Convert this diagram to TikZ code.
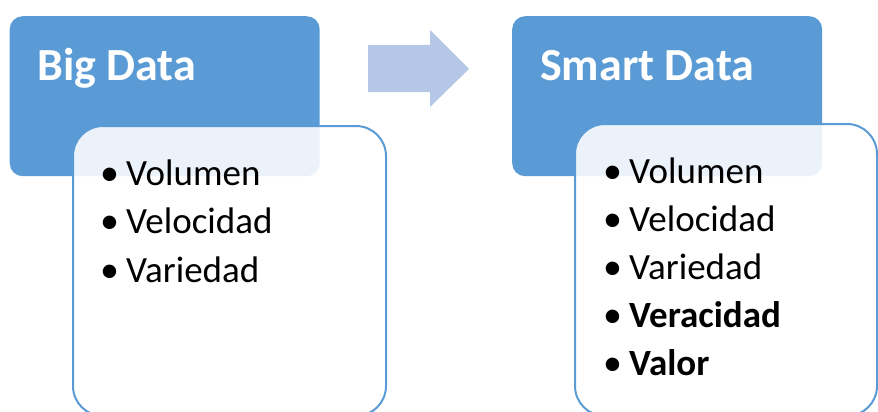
\documentclass[tikz,border=0pt]{standalone}
\usepackage{fontspec}
\setmainfont{Carlito}
\definecolor{accent}{HTML}{5B9BD5}
\definecolor{arrowfill}{HTML}{B4C7E7}
\tikzset{
  headbox/.style={fill=accent, draw=none, rounded corners=13pt, anchor=north west, inner sep=0pt},
  listbox/.style={fill=white, fill opacity=0.88, draw=accent, draw opacity=1, line width=2pt, rounded corners=30pt, anchor=north west, inner sep=0pt},
  headtext/.style={anchor=base west, inner sep=0pt, text=white, font=\fontsize{46}{46}\selectfont\bfseries},
  bul/.style={anchor=base west, inner sep=0pt, font=\fontsize{38}{38}\selectfont},
  itemtext/.style={anchor=base west, inner sep=0pt, font=\fontsize{37}{37}\selectfont},
}
\begin{document}
\begin{tikzpicture}[x=1pt,y=-1pt]
\useasboundingbox (0,0) rectangle (878,412);
% left group
\node[headbox, minimum width=310pt, minimum height=160pt] (bigbox) at (9.5,16) {};
\node[headtext] (bigtitle) at (37,81) {Big Data};
\node[listbox, minimum width=313pt, minimum height=290pt] (biglist) at (72,125) {};
\node[bul] (b1) at (100,185) {•};
\node[itemtext] (t1) at (126,185) {Volumen};
\node[bul] (b2) at (100,233.5) {•};
\node[itemtext] (t2) at (126,233.5) {Velocidad};
\node[bul] (b3) at (100,282) {•};
\node[itemtext] (t3) at (126,282) {Variedad};
% arrow
\fill[arrowfill] (368,45) -- (430,45) -- (430,30) -- (469,69) -- (430,107) -- (430,92) -- (368,92) -- cycle;
% right group
\node[headbox, minimum width=310pt, minimum height=160pt] (smartbox) at (512,16) {};
\node[headtext] (smarttitle) at (540,81) {Smart Data};
\node[listbox, minimum width=302pt, minimum height=292pt] (smartlist) at (574,123) {};
\node[bul] (c1) at (603,183) {•};
\node[itemtext] (u1) at (629,183) {Volumen};
\node[bul] (c2) at (603,231.5) {•};
\node[itemtext] (u2) at (629,231.5) {Velocidad};
\node[bul] (c3) at (603,279.5) {•};
\node[itemtext] (u3) at (629,279.5) {Variedad};
\node[bul] (c4) at (603,327) {•};
\node[itemtext, font=\fontsize{37}{37}\selectfont\bfseries] (u4) at (629,327) {Veracidad};
\node[bul] (c5) at (603,375) {•};
\node[itemtext, font=\fontsize{37}{37}\selectfont\bfseries] (u5) at (629,375) {Valor};
\end{tikzpicture}
\end{document}
